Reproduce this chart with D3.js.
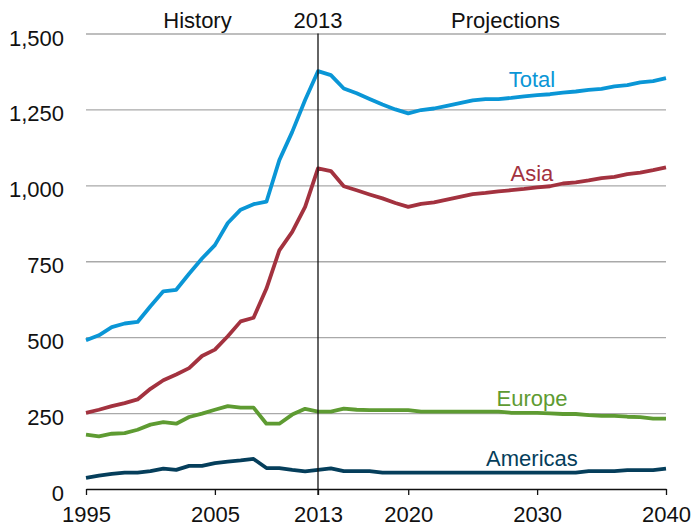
<!DOCTYPE html>
<html>
<head>
<meta charset="utf-8">
<script src="https://cdn.jsdelivr.net/npm/d3@7/dist/d3.min.js"></script>
<style>
  html, body { margin: 0; padding: 0; background: #fff; }
  svg { display: block; font-family: "Liberation Sans", Arial, sans-serif; }
</style>
</head>
<body>
<svg id="chart" width="694" height="527"></svg>
<script>
// Years 1995–2040; 2013 is the last historical year
const years = d3.range(1995, 2041);

const totalValues = [
  490, 506, 533, 545, 550, 602, 651, 656, 709, 759,
  803, 876, 920, 938, 946, 1083, 1176, 1281, 1376,
  1363, 1319, 1303, 1284, 1266, 1250, 1237, 1248, 1253, 1262,
  1271, 1280, 1284, 1284, 1288, 1293, 1297, 1300, 1305, 1309,
  1314, 1318, 1326, 1330, 1339, 1343, 1353
];
const asiaValues = [
  251, 261, 273, 283, 295, 330, 358, 377, 398, 438,
  459, 503, 552, 564, 660, 786, 847, 929, 1056,
  1047, 997, 984, 970, 957, 942, 929, 939, 944, 953,
  962, 971, 975, 980, 984, 988, 993, 997, 1006, 1010,
  1016, 1024, 1028, 1037, 1042, 1050, 1059
];
const europeValues = [
  179, 173, 182, 184, 195, 212, 220, 215, 237, 248,
  261, 273, 268, 268, 215, 215, 245, 264, 255,
  255, 265, 261, 260, 260, 260, 260, 255, 255, 255,
  255, 255, 255, 255, 251, 251, 251, 249, 247, 247,
  243, 241, 241, 238, 237, 232, 232
];
const americasValues = [
  37, 44, 50, 54, 54, 59, 67, 63, 76, 76,
  85, 90, 94, 99, 69, 69, 63, 58, 63,
  68, 59, 59, 59, 54, 54, 54, 54, 54, 54,
  54, 54, 54, 54, 54, 54, 54, 54, 54, 54,
  59, 59, 59, 62, 62, 62, 67
];

const seriesNames = ["Total", "Asia", "Europe", "Americas"];
const seriesColors = ["#0a96d6", "#a3323f", "#5e9b32", "#053e5b"];
const seriesValues = [totalValues, asiaValues, europeValues, americasValues];

const yTicks = [0, 250, 500, 750, 1000, 1250, 1500];
const xTicks = [1995, 2005, 2013, 2020, 2030, 2040];
const splitYear = 2013;
const periodLabels = [
  { text: "History", year: 2003.65 },
  { text: "2013", year: 2013 },
  { text: "Projections", year: 2027.55 }
];

const svg = d3.select("#chart");
const plotLeft = 86, plotRight = 666, plotTop = 33.5, plotBottom = 489;

const x = d3.scaleLinear().domain([1995, 2040]).range([plotLeft, plotRight]);
const y = d3.scaleLinear().domain([0, 1500]).range([plotBottom, plotTop]);

// horizontal gridlines and value labels
const yAxis = svg.append("g")
  .attr("transform", `translate(${plotLeft},0)`)
  .call(d3.axisLeft(y).tickValues(yTicks).tickSize(-(plotRight - plotLeft))
    .tickFormat(d3.format(",")).tickPadding(22));
yAxis.select(".domain").remove();
yAxis.selectAll(".tick line")
  .attr("stroke", "#a9a9a9").attr("stroke-width", 1.3)
  .attr("opacity", d => d === 0 ? 0 : 1);
yAxis.selectAll(".tick text")
  .attr("dy", null).attr("y", 11.5)
  .attr("fill", "#111").style("font-size", "22px");

// year axis
const xAxis = svg.append("g")
  .attr("transform", `translate(0,${plotBottom})`)
  .call(d3.axisBottom(x).tickValues(xTicks).tickSize(6).tickSizeOuter(0)
    .tickFormat(d3.format("d")));
xAxis.select(".domain").attr("stroke", "#111").attr("stroke-width", 1.3);
xAxis.selectAll(".tick line").attr("stroke", "#111").attr("stroke-width", 1.3);
xAxis.selectAll(".tick text")
  .attr("dy", null).attr("y", 33)
  .attr("fill", "#111").style("font-size", "22px");

// series lines
const line = d3.line().x((d, i) => x(years[i])).y(d => y(d));
seriesValues.forEach((vals, i) => {
  svg.append("path")
    .datum(vals)
    .attr("fill", "none")
    .attr("stroke", seriesColors[i])
    .attr("stroke-width", 3.8)
    .attr("stroke-linejoin", "round")
    .attr("d", line);
});

// history / projections divider
svg.append("line")
  .attr("x1", x(splitYear)).attr("x2", x(splitYear))
  .attr("y1", y(1500)).attr("y2", plotBottom + 6)
  .attr("stroke", "#111").attr("stroke-width", 1.3);

svg.selectAll("text.period")
  .data(periodLabels)
  .enter().append("text")
  .attr("class", "period")
  .attr("x", d => x(d.year))
  .attr("y", 28)
  .attr("text-anchor", "middle")
  .attr("fill", "#111")
  .style("font-size", "22px")
  .text(d => d.text);

// series labels, placed just above each line
const labelYear = 2029.6;
const labelLevels = [1323, 1015, 273, 76];
svg.selectAll("text.series")
  .data(seriesNames)
  .enter().append("text")
  .attr("class", "series")
  .attr("x", x(labelYear))
  .attr("y", (d, i) => y(labelLevels[i]))
  .attr("text-anchor", "middle")
  .attr("fill", (d, i) => seriesColors[i])
  .style("font-size", "22px")
  .text(d => d);
</script>
</body>
</html>
